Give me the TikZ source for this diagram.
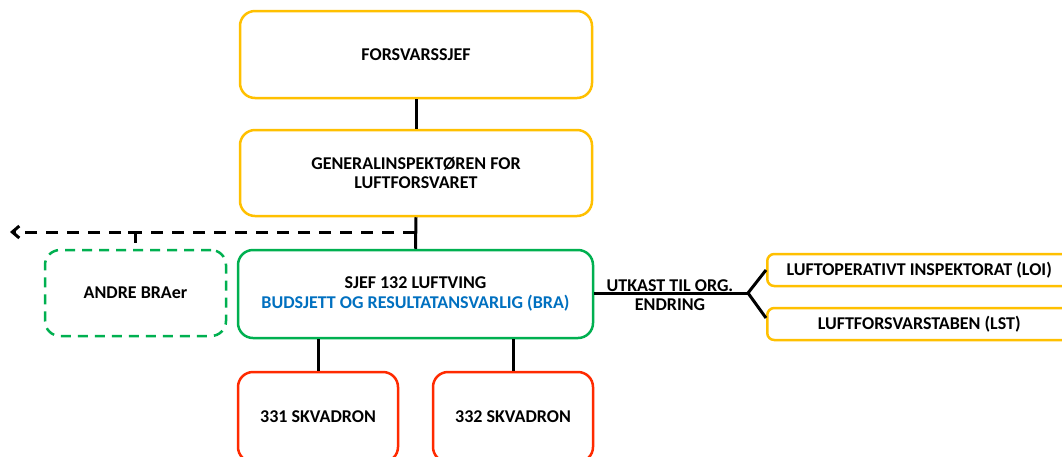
\documentclass[tikz,border=0pt]{standalone}
\usepackage{fontspec}
\setmainfont{Carlito}
\usetikzlibrary{arrows.meta}
\definecolor{yel}{HTML}{FFC000}
\definecolor{grn}{HTML}{00B050}
\definecolor{rd}{HTML}{FF2A00}
\definecolor{blu}{HTML}{0070C0}
\tikzset{
  box/.style={draw, line width=2.5pt, rounded corners=15pt, align=center, inner sep=0pt,
    font=\fontsize{18}{19}\selectfont\bfseries},
  ybox/.style={box, draw=yel},
  gbox/.style={box, draw=grn},
  rbox/.style={box, draw=rd},
  sbox/.style={box, draw=yel, rounded corners=7pt, font=\fontsize{18}{19}\selectfont\bfseries},
  conn/.style={line width=3pt, black},
  dconn/.style={line width=3pt, black, dash pattern=on 12pt off 9pt},
  lbl/.style={font=\fontsize{18}{19}\selectfont\bfseries, align=center, inner sep=0pt}
}
\begin{document}
\begin{tikzpicture}[x=1pt,y=-1pt]
\useasboundingbox (0,0) rectangle (1062,456);
\fill[white] (0,0) rectangle (1062,456);
\node[ybox, minimum width=352pt, minimum height=87pt] (fs) at (416,54.5) {FORSVARSSJEF};
\node[ybox, minimum width=352pt, minimum height=86pt] (gi) at (416,173) {GENERALINSPEKTØREN FOR\\LUFTFORSVARET};
\node[gbox, minimum width=355pt, minimum height=88pt, font=\fontsize{18}{20}\selectfont\bfseries] (sj) at (415.5,294) {SJEF 132 LUFTVING\\\textcolor{blu}{BUDSJETT OG RESULTATANSVARLIG (BRA)}};
\node[gbox, dashed, dash pattern=on 10pt off 7pt, minimum width=181pt, minimum height=86pt] (an) at (135.5,293) {ANDRE BRAer};
\node[rbox, minimum width=160pt, minimum height=90pt] (s1) at (318,417) {331 SKVADRON};
\node[rbox, minimum width=160pt, minimum height=90pt] (s2) at (513,417) {332 SKVADRON};
\node[sbox, minimum width=304pt, minimum height=32pt, anchor=west] (loi) at (766,270) {LUFTOPERATIVT INSPEKTORAT (LOI)};
\node[sbox, minimum width=304pt, minimum height=32pt, anchor=west] (lst) at (766,324) {LUFTFORSVARSTABEN (LST)};
\coordinate (fork) at (748,293);
\coordinate (dl) at (415,232);
\coordinate (tip) at (10,232);
\coordinate (tk) at (135,232);
\draw[conn] (fs.south) -- (gi.north);
\draw[conn] (gi.south) -- (sj.north);
\draw[dconn, -{Straight Barb[length=7pt,width=12pt]}] (dl) -- (tip);
\draw[line width=3pt, black] (tk) ++(-7,0) -- ++(14,0);
\draw[conn] (tk) -- ++(0,11);
\draw[conn] (sj.south -| s1.north) -- (s1.north);
\draw[conn] (sj.south -| s2.north) -- (s2.north);
\draw[conn] (sj.east |- fork) -- (fork);
\draw[conn] (fork) -- (loi.west |- 0,270);
\draw[conn] (fork) -- (lst.west |- 0,318);
\node[lbl, anchor=south] (ut) at (670,292) {UTKAST TIL ORG.};
\node[lbl, anchor=north] (en) at (670,298) {ENDRING};
\end{tikzpicture}
\end{document}
